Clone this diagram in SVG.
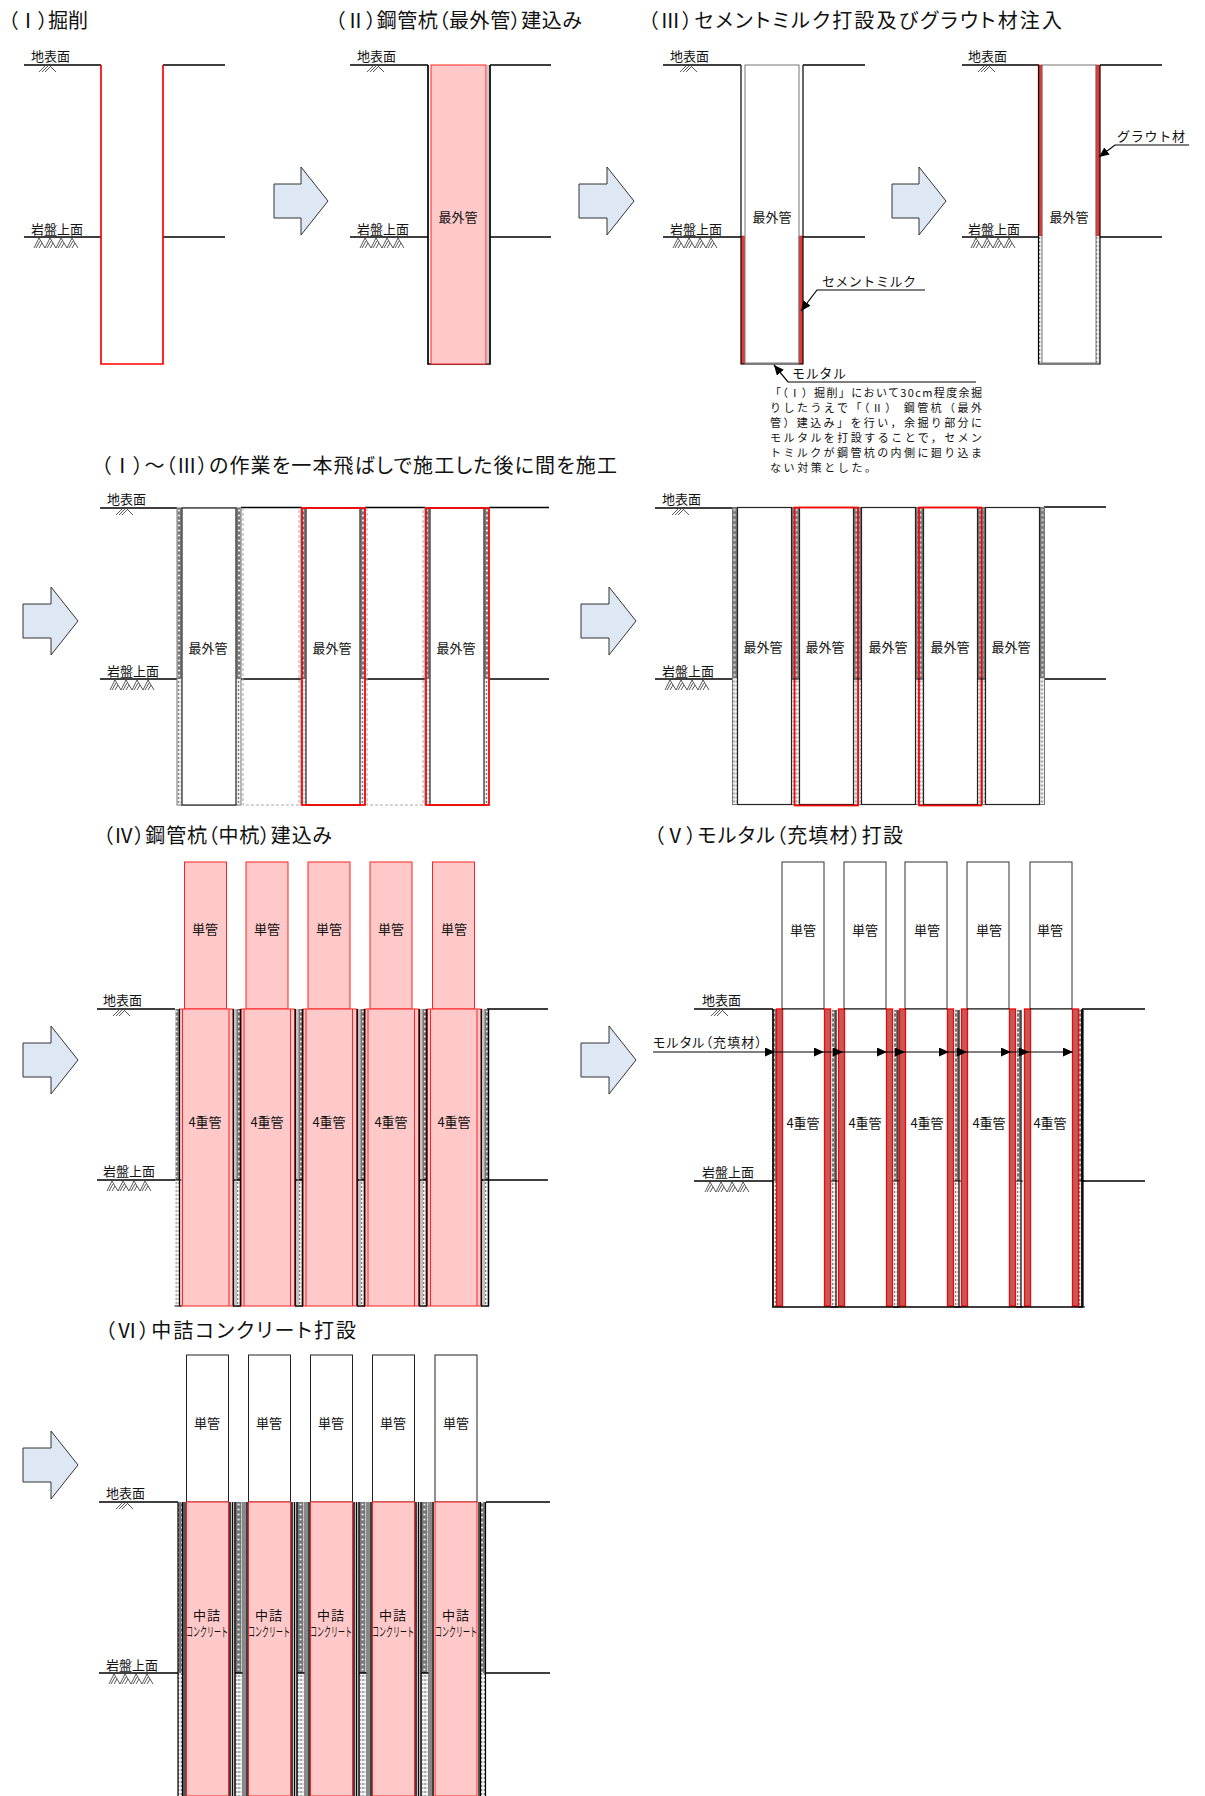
<svg xmlns="http://www.w3.org/2000/svg" width="1205" height="1796" viewBox="0 0 1205 1796">
<style>
text{font-family:"Noto Sans CJK JP","Liberation Sans",sans-serif;fill:#111}
.t{font-size:20px;font-feature-settings:"palt"}
.l{font-size:13px}
.m{font-size:13px;text-anchor:middle}
.n{font-size:11px}
.c{font-size:7px}
.g{stroke:#000;stroke-width:1.700;fill:none}
.k{stroke:#000;stroke-width:1.200;fill:none}
.r{stroke:#f00;stroke-width:1.700;fill:none}
.o{stroke:#777;stroke-width:1;fill:none}
.d{stroke:#aaa;stroke-width:1;fill:none;stroke-dasharray:3 2}
.p{fill:#ffc9c9;stroke:#f22;stroke-width:1}
.a{fill:#dde8f4;stroke:#333;stroke-width:1}
.h{stroke:#111;stroke-width:.7;fill:none}
.b{fill:#c25a5a;stroke:#f00;stroke-width:1.300}
.e{fill:#ee3333;stroke:#b00;stroke-width:.5}
.q{stroke:#000;stroke-width:1.200;fill:none}
</style>
<defs>
<pattern id="hd" patternUnits="userSpaceOnUse" width="4" height="5"><rect width="4" height="5" fill="#777"/><circle cx="2" cy="2.500" r="1" fill="#fff"/></pattern>
<pattern id="hl" patternUnits="userSpaceOnUse" width="3" height="4"><rect width="3" height="4" fill="#f4f4f4"/><circle cx="1.500" cy="2" r=".9" fill="#777"/></pattern>
<marker id="ah" markerUnits="userSpaceOnUse" markerWidth="11" markerHeight="9" refX="10" refY="4.500" orient="auto-start-reverse"><path d="M0 0L10 4.500L0 9z" fill="#000"/></marker>
<path id="gh" class="h" d="M0 6L6 0M3 6L9 0M6 6L11 1M11 0L17 6"/>
<g id="rh"><path id="rh1" class="h" d="M0 10L5 0L11 10M2 10L6 3M5 10L8 5"/><use href="#rh1" x="11"/><use href="#rh1" x="22"/><use href="#rh1" x="33"/></g>
<g id="p2">
<rect x="0.500" y="0" width="4" height="171" fill="url(#hd)"/><rect x="59.500" y="0" width="4" height="171" fill="url(#hd)"/>
<rect x="0.500" y="171" width="4" height="126" fill="url(#hl)"/><rect x="59.500" y="171" width="4" height="126" fill="url(#hl)"/>
<rect x="0" y="0" width="64" height="297" class="o"/><rect x="5" y="0" width="54" height="297" fill="#fff" stroke="#222" stroke-width="1.200"/>
</g>
<g id="g4">
<rect x="3.500" y="0" width="3.500" height="171" fill="url(#hd)"/><rect x="3.500" y="171" width="3.500" height="126" fill="url(#hl)"/>
<path stroke="#000" stroke-width="1.500" fill="none" d="M0.500 0V297M7.500 0V297M0 171H8M0 297H8"/>
<path stroke="#888" fill="none" d="M3 0V297"/>
</g>
<g id="p4">
<rect x="5" y="-147" width="42" height="147" class="p"/>
<rect x="0" y="0" width="53.500" height="297" class="p"/>
<path d="M3 0V297M49.500 0V297" stroke="#f22" fill="none"/>
</g>
<g id="p5">
<rect x="6" y="-147" width="42" height="147" fill="#fff" stroke="#333"/>
<rect x="6" y="0" width="42" height="297" fill="#fff"/>
<rect x="0.500" y="0" width="6" height="297" class="b"/><rect x="48.500" y="0" width="6" height="297" class="b"/>
<path stroke="#000" d="M6 0H48"/>
</g>
<g id="g5">
<rect x="1" y="0" width="3.500" height="171" fill="url(#hd)"/><rect x="1" y="171" width="3.500" height="126" fill="url(#hl)"/>
<path class="k" d="M5 0V297M0 171H7M0 297H7"/>
</g>
<g id="p6">
<rect x="0.500" y="-147" width="42" height="147" fill="#fff" stroke="#222"/>
<rect x="0.500" y="0" width="42" height="294" class="p" stroke="#e00" stroke-width="1.300"/>
</g>
<g id="g6">
<rect x="7" y="0" width="6" height="171" fill="url(#hd)"/><rect x="7" y="171" width="6" height="123" fill="url(#hl)"/>
<rect x="13.500" y="0" width="4" height="294" fill="#888"/>
<path stroke="#000" stroke-width="1.500" fill="none" d="M1.500 0V294M4 0V294M6.500 0V294M18.500 0V294M6 171H14"/>
</g>
</defs>

<g id="connectors">
<polygon class="a" points="274,184 301,184 301,167 328,201 301,235 301,218 274,218"/>
<polygon class="a" points="579,184 607,184 607,167 634,201 607,235 607,218 579,218"/>
<polygon class="a" points="892,184 919,184 919,167 946,201 919,235 919,218 892,218"/>
<polygon class="a" points="23,604 51,604 51,587 78,621 51,655 51,638 23,638"/>
<polygon class="a" points="581,604 609,604 609,587 636,621 609,655 609,638 581,638"/>
<polygon class="a" points="23,1043 51,1043 51,1026 78,1060 51,1094 51,1077 23,1077"/>
<polygon class="a" points="581,1043 609,1043 609,1026 636,1060 609,1094 609,1077 581,1077"/>
<polygon class="a" points="23,1448 51,1448 51,1431 78,1465 51,1499 51,1482 23,1482"/>
</g>

<g id="panel-1">
<text class="t" x="8" y="28" textLength="80">（Ⅰ）掘削</text>
<text class="l" x="31" y="61">地表面</text><text class="l" x="31" y="234">岩盤上面</text>
<use href="#gh" x="39" y="66"/><use href="#rh" x="34" y="238"/>
<path class="g" d="M24 65H101M163 65H225M24 237H101M163 237H225"/>
<path class="r" d="M101 65V364H163V65"/>
</g>

<g id="panel-2">
<text class="t" x="335" y="28" textLength="247">（Ⅱ）鋼管杭（最外管）建込み</text>
<text class="l" x="357" y="61">地表面</text><text class="l" x="357" y="234">岩盤上面</text>
<use href="#gh" x="367" y="66"/><use href="#rh" x="360" y="238"/>
<path class="g" d="M350 65H428M490 65H551M350 237H428M490 237H551"/>
<path class="g" d="M428 65V364H490V65"/><path stroke="#999" d="M488 65V364" fill="none"/>
<rect x="431" y="65" width="55" height="299" class="p"/>
<text class="m" x="458" y="222">最外管</text>
</g>

<g id="panel-3a">
<text class="t" x="648" y="28" textLength="414">（Ⅲ）セメントミルク打設及びグラウト材注入</text>
<text class="l" x="670" y="61">地表面</text><text class="l" x="670" y="234">岩盤上面</text>
<use href="#gh" x="680" y="66"/><use href="#rh" x="673" y="238"/>
<path class="g" d="M663 65H741M803 65H865M663 237H741M803 237H865"/>
<rect x="741.500" y="236" width="3" height="128" class="e"/><rect x="799" y="236" width="3.500" height="128" class="e"/>
<path class="k" d="M741 65V364H803V65"/>
<rect x="745" y="65" width="54" height="298" class="o" stroke-width="1.200"/>
<text class="m" x="772" y="222">最外管</text>
<text class="l" x="822" y="286" textLength="94">セメントミルク</text>
<polyline class="k" points="925,290 817,290 801,311" marker-end="url(#ah)"/>
<text class="l" x="792" y="378" textLength="54">モルタル</text>
<polyline class="k" points="976,382 788,382 774,365" marker-end="url(#ah)"/>
<text class="n" x="770" y="397" textLength="212">「（Ⅰ）掘削」において30cm程度余掘</text>
<text class="n" x="770" y="412" textLength="212">りしたうえで「（Ⅱ） 鋼管杭（最外</text>
<text class="n" x="770" y="427" textLength="212">管）建込み」を行い，余掘り部分に</text>
<text class="n" x="770" y="442" textLength="212">モルタルを打設することで，セメン</text>
<text class="n" x="770" y="457" textLength="212">トミルクが鋼管杭の内側に廻り込ま</text>
<text class="n" x="770" y="472" textLength="106">ない対策とした。</text>
</g>

<g id="panel-3b">
<text class="l" x="968" y="61">地表面</text><text class="l" x="968" y="234">岩盤上面</text>
<use href="#gh" x="978" y="66"/><use href="#rh" x="971" y="238"/>
<path class="g" d="M962 65H1039M1100 65H1162M962 237H1039M1100 237H1162"/>
<rect x="1039" y="65" width="3" height="171" class="e"/><rect x="1096" y="65" width="3.500" height="171" class="e"/>
<rect x="1039" y="236" width="3" height="128" fill="url(#hl)"/><rect x="1096" y="236" width="3.500" height="128" fill="url(#hl)"/>
<path class="k" d="M1038.500 65V364H1100V65"/>
<rect x="1042" y="65" width="54" height="298" class="o" stroke-width="1.200"/>
<text class="m" x="1069" y="222">最外管</text>
<text class="l" x="1117" y="141" textLength="68">グラウト材</text>
<polyline class="k" points="1189,145 1115,145 1099,157" marker-end="url(#ah)"/>
</g>

<g id="stage-row2-left">
<text class="t" x="101" y="473" textLength="516">（Ⅰ）～（Ⅲ）の作業を一本飛ばしで施工した後に間を施工</text>
<text class="l" x="107" y="504">地表面</text><text class="l" x="107" y="676">岩盤上面</text>
<use href="#gh" x="116" y="509"/><use href="#rh" x="110" y="680"/>
<path class="g" d="M100 508H177M241 507.500H302M365 507.500H425M489 507.500H549M100 679H177M241 679H302M365 679H425M489 679H549"/>
<path class="d" d="M243 508V805H299V508M367 508V805H423V508"/>
<g id="pile-a"><use href="#p2" x="177" y="508"/><text class="m" x="208" y="653">最外管</text></g>
<g id="pile-b"><use href="#p2" x="301" y="508"/><rect x="302" y="508" width="63" height="297" class="r"/><text class="m" x="332" y="653">最外管</text></g>
<g id="pile-c"><use href="#p2" x="425" y="508"/><rect x="426" y="508" width="63" height="297" class="r"/><text class="m" x="456" y="653">最外管</text></g>
</g>

<g id="stage-row2-right">
<text class="l" x="662" y="504">地表面</text><text class="l" x="662" y="676">岩盤上面</text>
<use href="#gh" x="672" y="509"/><use href="#rh" x="665" y="680"/>
<path class="g" d="M655 508H733M1044 507H1106M655 679H733M1044 679H1106"/>
<g id="pile-d"><use href="#p2" x="732.500" y="507.500"/><text class="m" x="763" y="652">最外管</text></g>
<g id="pile-f"><use href="#p2" x="856.500" y="507.500"/><text class="m" x="888" y="652">最外管</text></g>
<g id="pile-h"><use href="#p2" x="980.500" y="507.500"/><text class="m" x="1011" y="652">最外管</text></g>
<g id="pile-e"><use href="#p2" x="794.500" y="507.500"/><rect x="794.500" y="507.500" width="63.500" height="298" class="r"/><text class="m" x="825" y="652">最外管</text></g>
<g id="pile-g"><use href="#p2" x="918.500" y="507.500"/><rect x="919" y="507.500" width="62.500" height="298" class="r"/><text class="m" x="950" y="652">最外管</text></g>
<path class="k" d="M792 679H800M853 679H862M916 679H924M977 679H986"/>
</g>

<g id="stage-4">
<text class="t" x="103" y="843" textLength="229">（Ⅳ）鋼管杭（中杭）建込み</text>
<text class="l" x="103" y="1005">地表面</text><text class="l" x="103" y="1176">岩盤上面</text>
<use href="#gh" x="113" y="1010"/><use href="#rh" x="107" y="1181"/>
<path class="g" d="M97 1009H175M487 1009H548M97 1180H175M481 1180H548"/>
<g id="pipe4-1"><use href="#p4" x="179.500" y="1009"/><text class="m" x="205" y="934">単管</text><text class="m" x="205" y="1127">4重管</text></g>
<g id="pipe4-2"><use href="#p4" x="241" y="1009"/><text class="m" x="267" y="934">単管</text><text class="m" x="267" y="1127">4重管</text></g>
<g id="pipe4-3"><use href="#p4" x="303" y="1009"/><text class="m" x="329" y="934">単管</text><text class="m" x="329" y="1127">4重管</text></g>
<g id="pipe4-4"><use href="#p4" x="365" y="1009"/><text class="m" x="391" y="934">単管</text><text class="m" x="391" y="1127">4重管</text></g>
<g id="pipe4-5"><use href="#p4" x="427.500" y="1009"/><text class="m" x="454" y="934">単管</text><text class="m" x="454" y="1127">4重管</text></g>
<use href="#g5" x="174.500" y="1009"/>
<use href="#g4" x="233" y="1009"/><use href="#g4" x="295" y="1009"/><use href="#g4" x="357" y="1009"/><use href="#g4" x="419" y="1009"/><use href="#g4" x="481" y="1009"/>
</g>

<g id="stage-5">
<text class="t" x="654" y="843" textLength="249">（Ⅴ）モルタル（充填材）打設</text>
<text class="l" x="702" y="1005">地表面</text><text class="l" x="702" y="1177">岩盤上面</text>
<use href="#gh" x="711" y="1010"/><use href="#rh" x="705" y="1182"/>
<path class="g" d="M694 1009H773M1082 1009H1145M694 1181H773M1082 1181H1145"/>
<text class="l" x="653" y="1047" textLength="109" style="font-feature-settings:'palt'">モルタル（充填材）</text>
<rect x="773.500" y="1009" width="2.500" height="172" fill="url(#hd)"/><rect x="773.500" y="1181" width="2.500" height="126" fill="url(#hl)"/>
<use href="#g5" x="831" y="1010"/><use href="#g5" x="893" y="1010"/><use href="#g5" x="954" y="1010"/><use href="#g5" x="1016" y="1010"/><use href="#g5" x="1078" y="1010"/>
<g id="pipe5-1"><use href="#p5" x="776" y="1009"/><text class="m" x="803" y="935">単管</text><text class="m" x="803" y="1128">4重管</text></g>
<g id="pipe5-2"><use href="#p5" x="838" y="1009"/><text class="m" x="865" y="935">単管</text><text class="m" x="865" y="1128">4重管</text></g>
<g id="pipe5-3"><use href="#p5" x="899" y="1009"/><text class="m" x="927" y="935">単管</text><text class="m" x="927" y="1128">4重管</text></g>
<g id="pipe5-4"><use href="#p5" x="961" y="1009"/><text class="m" x="989" y="935">単管</text><text class="m" x="989" y="1128">4重管</text></g>
<g id="pipe5-5"><use href="#p5" x="1024" y="1009"/><text class="m" x="1050" y="935">単管</text><text class="m" x="1050" y="1128">4重管</text></g>
<path class="g" d="M773 1009V1307H1082V1009"/>
<path class="q" d="M653 1052L775 1052L824 1052L843 1052L887 1052L905 1052L949 1052L967 1052L1011 1052L1029 1052L1073 1052" marker-mid="url(#ah)" marker-end="url(#ah)"/>
</g>

<g id="stage-6">
<text class="t" x="105" y="1338" textLength="251">（Ⅵ）中詰コンクリート打設</text>
<text class="l" x="106" y="1498">地表面</text><text class="l" x="106" y="1670">岩盤上面</text>
<use href="#gh" x="116" y="1503"/><use href="#rh" x="109" y="1674"/>
<path class="g" d="M99 1502H178M486 1502H550M99 1673H178M486 1673H550"/>
<rect x="178" y="1502" width="4" height="171" fill="url(#hd)"/><rect x="178" y="1673" width="4" height="123" fill="url(#hl)"/>
<path class="k" d="M178 1502V1796M182.500 1502V1796"/><rect x="183" y="1502" width="3" height="294" fill="#555"/>
<use href="#g6" x="228.500" y="1502"/><use href="#g6" x="290.500" y="1502"/><use href="#g6" x="352.500" y="1502"/><use href="#g6" x="414.500" y="1502"/>
<rect x="478" y="1502" width="2" height="294" fill="#555"/><rect x="481" y="1502" width="4" height="171" fill="url(#hd)"/><rect x="481" y="1673" width="4" height="123" fill="url(#hl)"/>
<path class="k" d="M480.500 1502V1796M485.500 1502V1796"/>
<g id="pipe6-1"><use href="#p6" x="186" y="1502"/><text class="m" x="207" y="1428">単管</text><text class="m" x="207" y="1620" letter-spacing="1">中詰</text><text class="c" transform="translate(186 1636) scale(1 1.800)">コンクリート</text></g>
<g id="pipe6-2"><use href="#p6" x="248" y="1502"/><text class="m" x="269" y="1428">単管</text><text class="m" x="269" y="1620" letter-spacing="1">中詰</text><text class="c" transform="translate(248 1636) scale(1 1.800)">コンクリート</text></g>
<g id="pipe6-3"><use href="#p6" x="310" y="1502"/><text class="m" x="331" y="1428">単管</text><text class="m" x="331" y="1620" letter-spacing="1">中詰</text><text class="c" transform="translate(310 1636) scale(1 1.800)">コンクリート</text></g>
<g id="pipe6-4"><use href="#p6" x="372" y="1502"/><text class="m" x="393" y="1428">単管</text><text class="m" x="393" y="1620" letter-spacing="1">中詰</text><text class="c" transform="translate(372 1636) scale(1 1.800)">コンクリート</text></g>
<g id="pipe6-5"><use href="#p6" x="434.500" y="1502"/><text class="m" x="456" y="1428">単管</text><text class="m" x="456" y="1620" letter-spacing="1">中詰</text><text class="c" transform="translate(435 1636) scale(1 1.800)">コンクリート</text></g>
</g>
</svg>
